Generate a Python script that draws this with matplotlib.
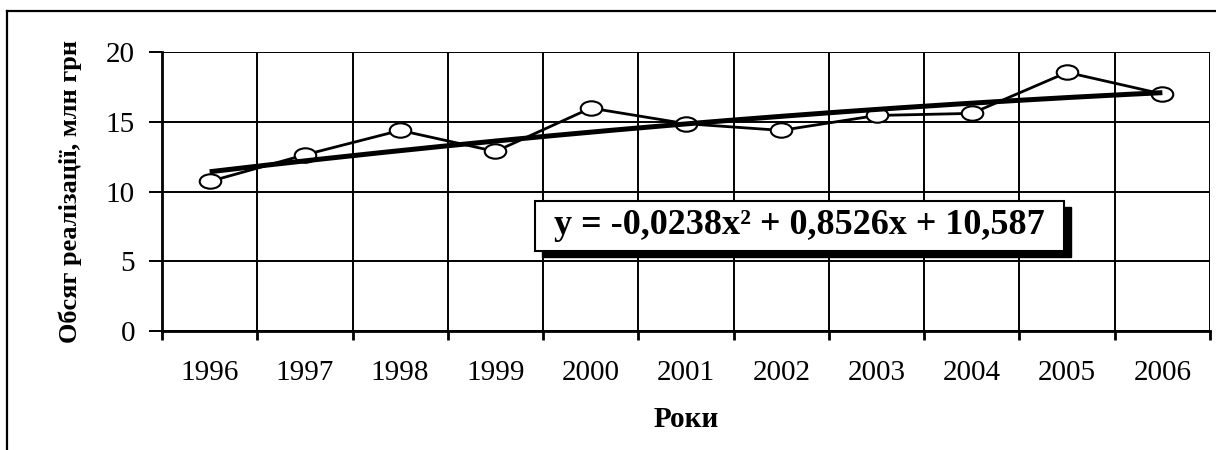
import numpy as np
import matplotlib
matplotlib.use("Agg")
import matplotlib.pyplot as plt
from matplotlib.path import Path
from matplotlib.transforms import Affine2D
from matplotlib.patches import Rectangle
from matplotlib.lines import Line2D

# data
years = ['1996', '1997', '1998', '1999', '2000', '2001',
         '2002', '2003', '2004', '2005', '2006']
sales = [10.72, 12.63, 14.38, 12.87, 15.98, 14.86,
         14.38, 15.45, 15.60, 18.54, 16.99]
trend_coef = [-0.0238, 0.8526, 10.587]   # y = a*x^2 + b*x + c, x = 1..11
eq_label = 'y = -0,0238x² + 0,8526x + 10,587'
y_ticks = [0, 5, 10, 15, 20]

plt.rcParams['font.family'] = ['Liberation Serif', 'DejaVu Serif']

W, H = 1216, 450
fig = plt.figure(figsize=(W / 100, H / 100), dpi=100)
ax = fig.add_axes([162 / W, 1 - 331 / H, (1210 - 162) / W, (331 - 52) / H])

x = np.arange(1, len(years) + 1)

# slightly squashed circle, the picture is stretched sideways
ell = Path.unit_circle().transformed(Affine2D().scale(1.0, 0.67))
ax.plot(x, sales, color='k', lw=2, marker=ell, ms=15.5,
        mfc='white', mec='k', mew=1.5, zorder=3)

xt = np.linspace(1, len(years), 200)
ax.plot(xt, np.polyval(trend_coef, xt), color='k', lw=3.6, zorder=4,
        solid_capstyle='butt')

ax.set_xlim(0.5, len(years) + 0.5)
ax.set_ylim(0, 20)
ax.set_yticks(y_ticks)
ax.set_xticks(x)
ax.set_xticklabels(years)
ax.set_xticks(np.arange(0.5, len(years) + 1), minor=True)

ax.grid(False)
for v in np.arange(0.5, len(years) + 1):
    ax.axvline(v, color='k', lw=1.4, zorder=1)
for v in y_ticks:
    ax.axhline(v, color='k', lw=1.4, zorder=1)

for s in ax.spines.values():
    s.set_visible(False)
ax.spines['left'].set_visible(True)
ax.spines['bottom'].set_visible(True)
ax.spines['left'].set_linewidth(2)
ax.spines['bottom'].set_linewidth(2)

ax.tick_params(axis='x', which='major', length=0, labelsize=21, pad=21)
ax.tick_params(axis='x', which='minor', length=6.5, width=2, direction='out')
ax.tick_params(axis='y', length=9.5, width=1.4, direction='out',
               labelsize=21, pad=10)

ax.set_ylabel('Обсяг реалізації, млн грн', fontsize=19, fontweight='bold',
              labelpad=17)
ax.set_xlabel('Роки', fontsize=21, fontweight='bold', labelpad=14)

# equation box with shadow
pix = fig.transFigure
bx0, bx1, by0, by1 = 535, 1064, 201, 251
fig.patches.append(Rectangle(((bx0 + 7) / W, 1 - (by1 + 6) / H),
                             (bx1 - bx0) / W, (by1 - by0) / H,
                             transform=pix, fc='k', ec='k', zorder=5))
fig.patches.append(Rectangle((bx0 / W, 1 - by1 / H),
                             (bx1 - bx0) / W, (by1 - by0) / H,
                             transform=pix, fc='white', ec='k', lw=1.5,
                             zorder=6))
fig.text((bx0 + bx1) / 2 / W, 1 - (by0 + by1) / 2 / H, eq_label,
         ha='center', va='center', fontsize=26, fontweight='bold',
         zorder=7)

# outer frame (only top and left visible)
fig.lines.append(Line2D([7 / W, 1], [1 - 11 / H, 1 - 11 / H],
                        transform=pix, color='k', lw=1.6))
fig.lines.append(Line2D([7 / W, 7 / W], [0, 1 - 11 / H],
                        transform=pix, color='k', lw=1.6))

fig.savefig('out.png', dpi=100)
